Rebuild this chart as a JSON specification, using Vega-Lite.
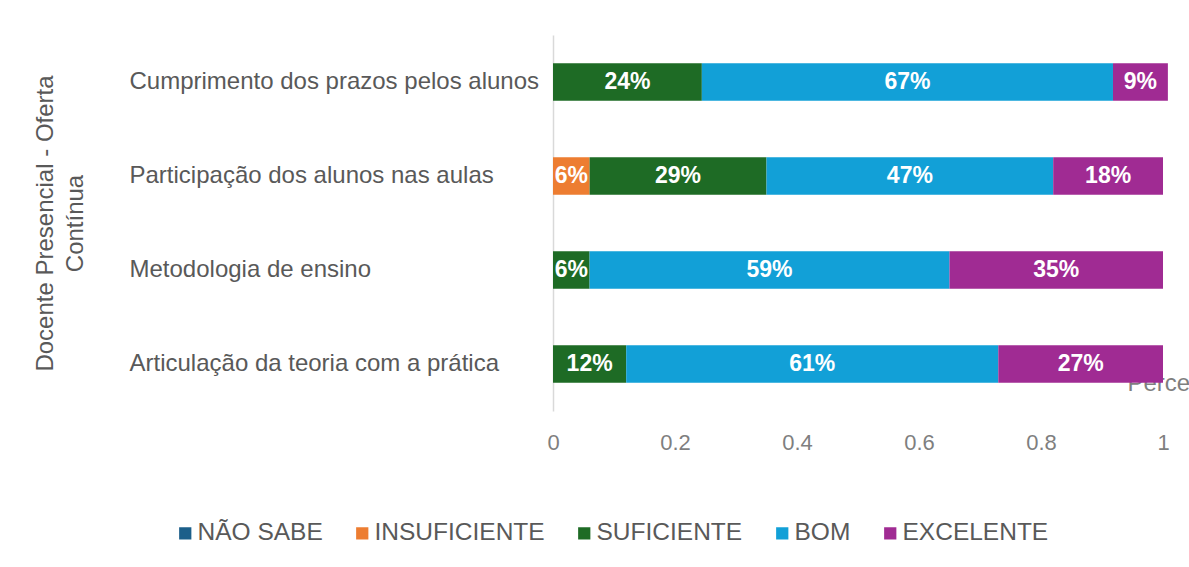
{
  "$schema": "https://vega.github.io/schema/vega-lite/v6.json",
  "autosize": "none",
  "width": 610,
  "height": 376,
  "padding": {"left": 553, "top": 35, "right": 26, "bottom": 156},
  "background": "white",
  "config": {"font": "Liberation Sans", "view": {"stroke": null}},
  "data": {
    "values": [
      {"item": "Cumprimento dos prazos pelos alunos", "nivel": "SUFICIENTE", "valor": 0.244},
      {"item": "Cumprimento dos prazos pelos alunos", "nivel": "BOM", "valor": 0.674},
      {"item": "Cumprimento dos prazos pelos alunos", "nivel": "EXCELENTE", "valor": 0.09},
      {"item": "Participação dos alunos nas aulas", "nivel": "INSUFICIENTE", "valor": 0.06},
      {"item": "Participação dos alunos nas aulas", "nivel": "SUFICIENTE", "valor": 0.29},
      {"item": "Participação dos alunos nas aulas", "nivel": "BOM", "valor": 0.47},
      {"item": "Participação dos alunos nas aulas", "nivel": "EXCELENTE", "valor": 0.18},
      {"item": "Metodologia de ensino", "nivel": "SUFICIENTE", "valor": 0.06},
      {"item": "Metodologia de ensino", "nivel": "BOM", "valor": 0.59},
      {"item": "Metodologia de ensino", "nivel": "EXCELENTE", "valor": 0.35},
      {"item": "Articulação da teoria com a prática", "nivel": "SUFICIENTE", "valor": 0.12},
      {"item": "Articulação da teoria com a prática", "nivel": "BOM", "valor": 0.61},
      {"item": "Articulação da teoria com a prática", "nivel": "EXCELENTE", "valor": 0.27}
    ]
  },
  "transform": [
    {"calculate": "indexof(['NÃO SABE','INSUFICIENTE','SUFICIENTE','BOM','EXCELENTE'], datum.nivel)", "as": "ordem"},
    {"stack": "valor", "groupby": ["item"], "sort": [{"field": "ordem", "order": "ascending"}], "as": ["x0", "x1"]},
    {"calculate": "(datum.x0 + datum.x1) / 2", "as": "mid"}
  ],
  "encoding": {
    "y": {
      "field": "item",
      "type": "nominal",
      "sort": ["Cumprimento dos prazos pelos alunos", "Participação dos alunos nas aulas", "Metodologia de ensino", "Articulação da teoria com a prática"],
      "scale": {"paddingInner": 0.6, "paddingOuter": 0.3},
      "axis": {
        "title": ["Docente Presencial - Oferta", "Contínua"],
        "titleAngle": 270,
        "titleX": -520,
        "titleY": 188,
        "titleAlign": "center",
        "titleBaseline": "top",
        "titleFontSize": 24,
        "titleFontWeight": "normal",
        "titleColor": "#595959",
        "titleLineHeight": 30,
        "domain": true,
        "domainColor": "#d9d9d9",
        "domainWidth": 1.5,
        "ticks": false,
        "grid": false,
        "labelAlign": "left",
        "labelBaseline": "middle",
        "labelPadding": 424,
        "labelLimit": 0,
        "labelFontSize": 24,
        "labelColor": "#595959"
      }
    }
  },
  "layer": [
    {
      "mark": {"type": "bar"},
      "encoding": {
        "x": {
          "field": "x0",
          "type": "quantitative",
          "scale": {"domain": [0, 1], "nice": false},
          "axis": {
            "values": [0, 0.2, 0.4, 0.6, 0.8, 1],
            "format": "~g",
            "grid": false,
            "ticks": false,
            "domain": false,
            "labelFlush": false,
            "labelFontSize": 22,
            "labelColor": "#7f7f7f",
            "labelPadding": 21,
            "title": "Percentual",
            "titleX": 574,
            "titleY": -28,
            "titleAlign": "left",
            "titleBaseline": "middle",
            "titleFontSize": 24,
            "titleFontWeight": "normal",
            "titleColor": "#7f7f7f"
          }
        },
        "x2": {"field": "x1"},
        "color": {
          "field": "nivel",
          "type": "nominal",
          "scale": {
            "domain": ["NÃO SABE", "INSUFICIENTE", "SUFICIENTE", "BOM", "EXCELENTE"],
            "range": ["#1c5f8a", "#ed7d31", "#1e6b25", "#12a0d7", "#a02b93"]
          },
          "legend": {
            "orient": "none",
            "legendX": -380,
            "legendY": 486,
            "direction": "horizontal",
            "columns": 5,
            "title": null,
            "symbolType": "square",
            "symbolSize": 150,
            "symbolStrokeWidth": 0,
            "labelFontSize": 24.5,
            "labelColor": "#595959",
            "labelOffset": 0,
            "columnPadding": 27,
            "labelLimit": 0
          }
        }
      }
    },
    {
      "mark": {"type": "text", "color": "white", "fontSize": 23, "fontWeight": "bold", "align": "center", "baseline": "middle"},
      "encoding": {
        "x": {"field": "mid", "type": "quantitative"},
        "text": {"field": "valor", "type": "quantitative", "format": ".0%"}
      }
    }
  ]
}
